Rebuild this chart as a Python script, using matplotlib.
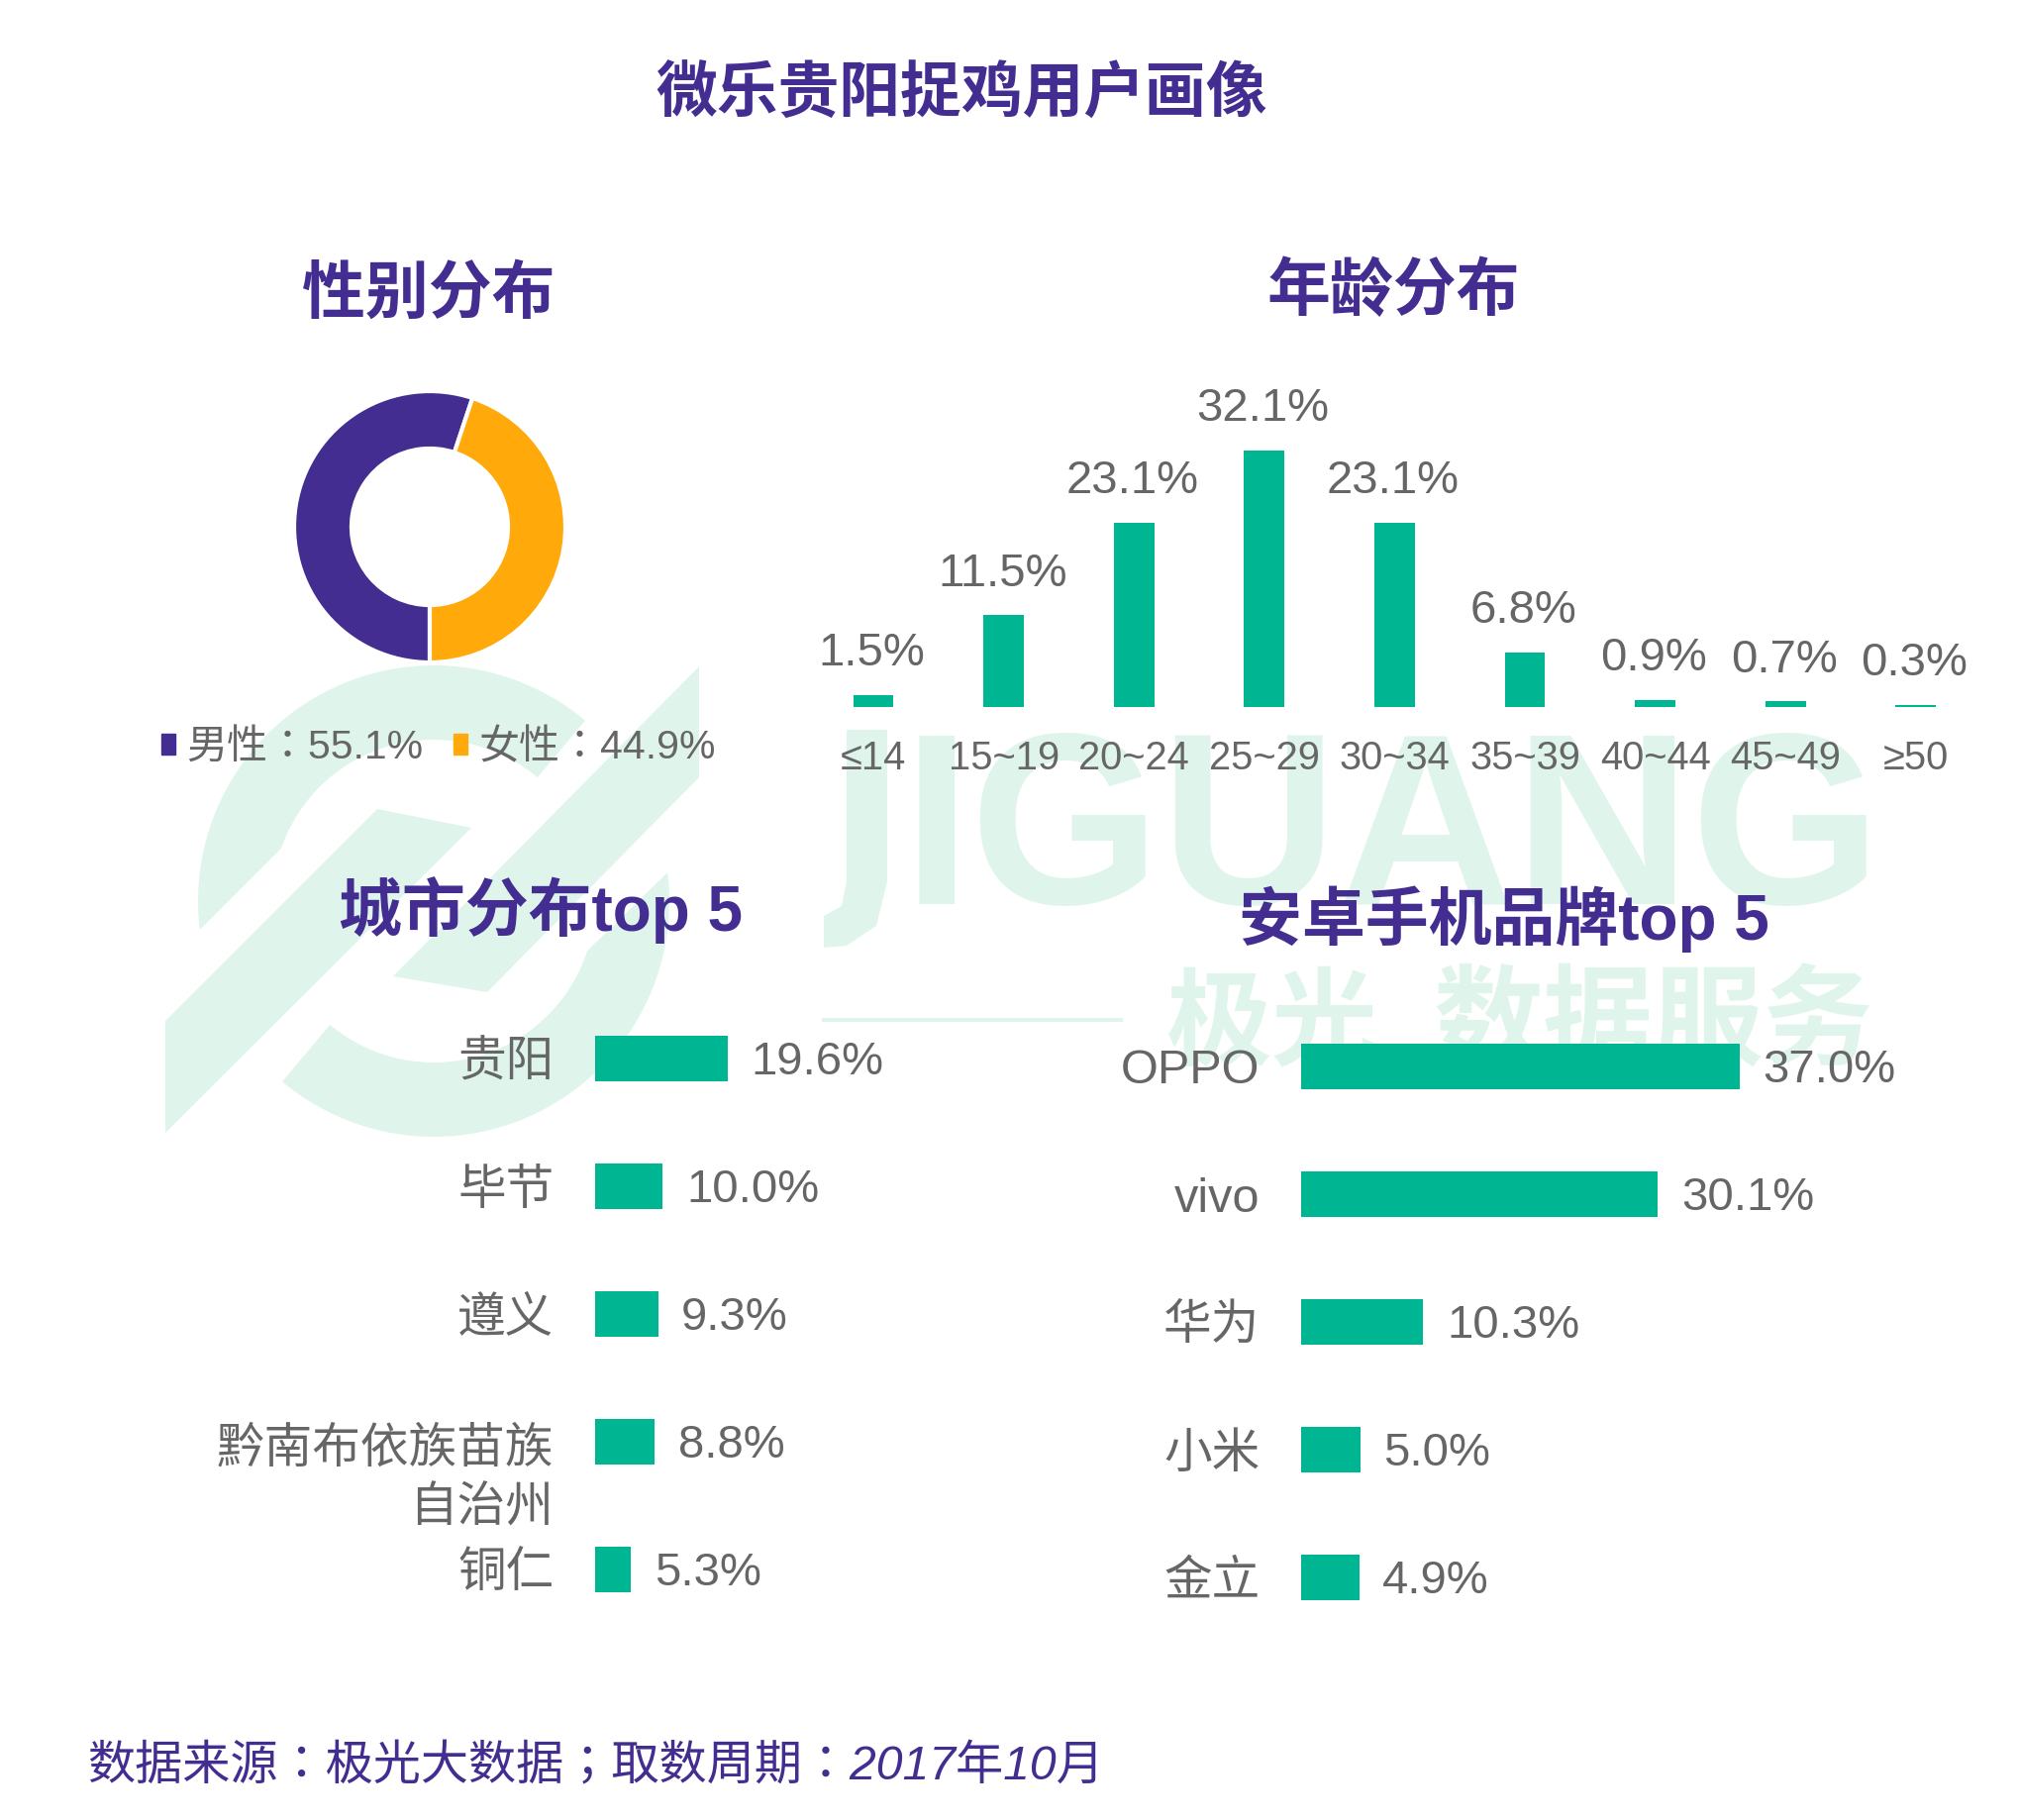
import numpy as np
import matplotlib
matplotlib.use('Agg')
import matplotlib.pyplot as plt
from matplotlib.font_manager import FontProperties
from matplotlib.patches import Patch, Polygon
from matplotlib.transforms import ScaledTranslation

plt.rcParams['font.family'] = ['Liberation Sans', 'Noto Sans CJK SC', 'DejaVu Sans']
# TC has the centred ：and ； of the reference
TC_FAMILY = ['Liberation Sans', 'Noto Sans CJK TC', 'DejaVu Sans']

W, H = 2040, 1838
PURPLE = '#432D91'
ORANGE = '#FFA90A'
GREEN = '#00B692'
GRAY = '#666666'
MARK = '#DFF5EC'  # watermark

gender_names = ['男性', '女性']
gender_values = [55.1, 44.9]

age_labels = ['≤14', '15~19', '20~24', '25~29', '30~34', '35~39', '40~44', '45~49', '≥50']
age_values = [1.5, 11.5, 23.1, 32.1, 23.1, 6.8, 0.9, 0.7, 0.3]

city_labels = ['贵阳', '毕节', '遵义', '黔南布依族苗族\n自治州', '铜仁']
city_values = [19.6, 10.0, 9.3, 8.8, 5.3]

phone_labels = ['OPPO', 'vivo', '华为', '小米', '金立']
phone_values = [37.0, 30.1, 10.3, 5.0, 4.9]

fig = plt.figure(figsize=(W / 100, H / 100), dpi=100, facecolor='white')


def px_axes(x0, y0, x1, y1, **kw):
    ax = fig.add_axes([x0 / W, 1 - y1 / H, (x1 - x0) / W, (y1 - y0) / H], **kw)
    ax.patch.set_visible(False)
    return ax


# watermark layer, in picture pixels
bg = px_axes(0, 0, W, H)
bg.set_xlim(0, W)
bg.set_ylim(H, 0)
bg.axis('off')


def ring_piece(outer_from, outer_to, inner_from, inner_to):
    cx, cy, R, r = 438, 910, 238, 163
    a = np.radians(np.linspace(outer_from, outer_to, 60))
    b = np.radians(np.linspace(inner_from, inner_to, 60))
    xs = np.r_[cx + R * np.cos(a), cx + r * np.cos(b)]
    ys = np.r_[cy - R * np.sin(a), cy - r * np.sin(b)]
    return np.c_[xs, ys]


bg.add_patch(Polygon(ring_piece(50, 187, 161, 50), fc=MARK, ec='none'))
bg.add_patch(Polygon(ring_piece(230, 367, 342, 230), fc=MARK, ec='none'))
bg.add_patch(Polygon([(167, 1031), (381, 817), (476, 836), (167, 1144)], fc=MARK, ec='none'))
bg.add_patch(Polygon([(706, 673), (706, 785), (492, 1002), (397, 986)], fc=MARK, ec='none'))
bg.add_patch(Polygon([(855, 737), (896, 737), (896, 890), (885, 935), (855, 955), (832, 957),
                      (832, 925), (850, 915), (855, 890)], fc=MARK, ec='none'))
bg.text(912, 913, 'IGUANG', fontsize=178, fontweight='bold', color=MARK, ha='left', va='baseline')
bg.plot([832, 1132], [1030, 1030], color=MARK, lw=3)
bg.text(1177, 1038, '极光', fontsize=77, fontweight='bold', color=MARK, ha='left', va='center')
bg.text(1448, 1038, '数据服务', fontsize=80, fontweight='bold', color=MARK, ha='left', va='center')

# titles
bg.text(971, 97, '微乐贵阳捉鸡用户画像', fontsize=44.5, fontweight='bold', color=PURPLE, ha='center', va='center')
bg.text(433, 298, '性别分布', fontsize=46, fontweight='bold', color=PURPLE, ha='center', va='center')
bg.text(1407, 295, '年龄分布', fontsize=46, fontweight='bold', color=PURPLE, ha='center', va='center')
bg.text(546, 919, '城市分布top 5', fontsize=46, fontweight='bold', color=PURPLE, ha='center', va='center')
bg.text(1519, 928, '安卓手机品牌top 5', fontsize=46, fontweight='bold', color=PURPLE, ha='center', va='center')
bg.text(88, 1785, '数据来源：极光大数据；取数周期：2017年10月', fontsize=34.7, style='italic', color=PURPLE,
        family=TC_FAMILY, ha='left', va='center')

# gender donut
r_px = 137 * 1.25
ax = px_axes(434 - r_px, 532 - r_px, 434 + r_px, 532 + r_px)
ax.pie(gender_values, colors=[PURPLE, ORANGE], startangle=-90, counterclock=False,
       wedgeprops=dict(width=0.423, edgecolor='white', linewidth=3))
fig.legend([Patch(color=PURPLE), Patch(color=ORANGE)],
           ['%s：%.1f%%' % (n, v) for n, v in zip(gender_names, gender_values)],
           loc='center left', bbox_to_anchor=(163 / W, 1 - 755 / H), ncol=2, frameon=False,
           prop=FontProperties(family=TC_FAMILY, size=29.5), labelcolor=GRAY,
           handlelength=0.34, handleheight=0.39,
           handletextpad=0.27, columnspacing=0.76, borderpad=0, borderaxespad=0)

# age bars
ax = px_axes(882 - 65.8, 714 - 8.07 * 37, 882 + 131.6 * 8 + 65.8, 714)
ax.bar(range(len(age_values)), age_values, width=0.31, color=GREEN)
ax.set_xlim(-0.5, 8.5)
ax.set_ylim(0, 37)
ax.set_xticks(range(len(age_labels)), age_labels, fontsize=28.7, color=GRAY)
ax.set_yticks([])
ax.tick_params(axis='x', length=0, pad=24)
for s in ax.spines.values():
    s.set_visible(False)
for i, v in enumerate(age_values):
    ax.annotate('%.1f%%' % v, (i, v), xytext=(-1, 30), textcoords='offset points', ha='center', va='center',
                fontsize=34, color=GRAY)


def hbar_panel(x0, y0, px_per_unit, labels, values):
    right = x0 + px_per_unit * 42
    ax = px_axes(x0, y0 - 64.5, right, y0 + 129 * 4 + 64.5)
    ax.barh(range(len(values)), values, height=0.357, color=GREEN)
    ax.set_xlim(0, 42)
    ax.set_ylim(4.5, -0.5)
    ax.set_xticks([])
    ax.set_yticks(range(len(labels)), labels, fontsize=35, color=GRAY, ha='right', linespacing=1.4)
    ax.tick_params(axis='y', length=0, pad=30)
    for s in ax.spines.values():
        s.set_visible(False)
    for i, v in enumerate(values):
        ax.annotate('%.1f%%' % v, (v, i), xytext=(17, -3), textcoords='offset points', ha='left', va='center',
                    fontsize=34, color=GRAY)
    return ax


ax = hbar_panel(601, 1069, 6.84, city_labels, city_values)
# two-line label hangs below its bar
lab = ax.get_yticklabels()[3]
lab.set_transform(lab.get_transform() + ScaledTranslation(0, -26 / 100, fig.dpi_scale_trans))

hbar_panel(1314, 1077, 11.97, phone_labels, phone_values)

fig.savefig('out.png', dpi=100, facecolor='white')
